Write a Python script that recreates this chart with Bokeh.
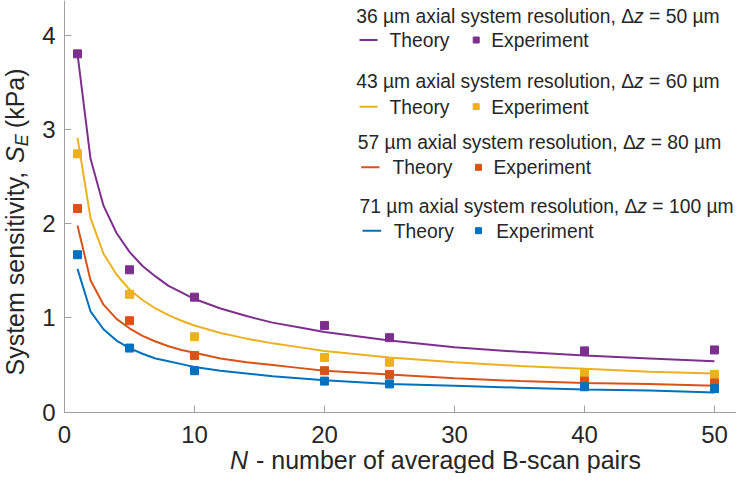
import math
from bokeh.plotting import figure
from bokeh.models import Range1d, Label, FixedTicker
from bokeh.embed import file_html
from bokeh.resources import INLINE

# ---------------- data ----------------
n_exp = [1, 5, 10, 20, 25, 40, 50]
exp_36 = [3.80, 1.51, 1.22, 0.92, 0.79, 0.65, 0.66]
exp_43 = [2.74, 1.25, 0.80, 0.58, 0.53, 0.41, 0.40]
exp_57 = [2.16, 0.97, 0.60, 0.44, 0.40, 0.33, 0.31]
exp_71 = [1.67, 0.68, 0.44, 0.33, 0.30, 0.27, 0.25]

n_theory = [1, 2, 3, 4, 5, 6, 7, 8, 9, 10, 12, 14, 16, 18, 20, 25, 30, 35, 40, 45, 50]
theory_36 = [3.80, 2.69, 2.19, 1.90, 1.70, 1.55, 1.44, 1.34, 1.27, 1.20, 1.10, 1.02, 0.95, 0.90, 0.85, 0.76, 0.69, 0.64, 0.60, 0.57, 0.54]
theory_43 = [2.91, 2.06, 1.68, 1.46, 1.30, 1.19, 1.10, 1.03, 0.97, 0.92, 0.84, 0.78, 0.73, 0.69, 0.65, 0.58, 0.53, 0.49, 0.46, 0.43, 0.41]
theory_57 = [1.98, 1.40, 1.14, 0.99, 0.89, 0.81, 0.75, 0.70, 0.66, 0.63, 0.57, 0.53, 0.50, 0.47, 0.44, 0.40, 0.36, 0.33, 0.31, 0.30, 0.28]
theory_71 = [1.52, 1.07, 0.88, 0.76, 0.68, 0.62, 0.57, 0.54, 0.51, 0.48, 0.44, 0.41, 0.38, 0.36, 0.34, 0.30, 0.28, 0.26, 0.24, 0.23, 0.21]

resolutions = ["36", "43", "57", "71"]
dz_values = ["50", "60", "80", "100"]
x_ticks = [0, 10, 20, 30, 40, 50]
y_ticks = [0, 1, 2, 3, 4]

colors = ["#7E2F8E", "#EDB120", "#D95319", "#0072BD"]
theories = [theory_36, theory_43, theory_57, theory_71]
exps = [exp_36, exp_43, exp_57, exp_71]

# ---------------- layout helpers (canvas px -> data) ----------------
W, H = 736, 473
X0, XS = 64.0, 13.0      # canvas px of x=0, px per unit
Y0, YS = 411.7, 94.3     # canvas px of y=0, px per unit
def dx(px):
    return (px - X0) / XS
def dy(py):
    return (Y0 - py) / YS

FONT = "Liberation Sans"
TXT = "#262626"
AX = "#a0a0a0"
BASE_FIX = 0.32  # measured shift of rendered baseline, in em

p = figure(width=W, height=H,
           x_range=Range1d(dx(0), dx(W)), y_range=Range1d(dy(H), dy(0)),
           output_backend="svg", toolbar_location=None,
           min_border=0, min_border_left=0, min_border_right=0,
           min_border_top=0, min_border_bottom=0)
p.outline_line_color = None
p.xgrid.visible = False
p.ygrid.visible = False
p.background_fill_color = "white"

xa, ya = p.xaxis[0], p.yaxis[0]
xa.fixed_location = 0
ya.fixed_location = 0
xa.bounds = (0, dx(W))
ya.bounds = (0, dy(0))
for ax in (xa, ya):
    ax.axis_line_color = AX
    ax.major_tick_line_color = AX
    ax.major_tick_in = 7
    ax.major_tick_out = 0
    ax.minor_tick_line_color = None
    ax.major_label_text_font = FONT
    ax.major_label_text_font_size = "24px"
    ax.major_label_text_color = TXT
xa.ticker = FixedTicker(ticks=x_ticks)
ya.ticker = FixedTicker(ticks=y_ticks)
xa.major_label_standoff = 14
ya.major_label_standoff = 9

# ---------------- series ----------------
for c, th in zip(colors, theories):
    p.line(n_theory, th, line_color=c, line_width=2)
for c, ex in zip(colors, exps):
    p.scatter(n_exp, ex, marker="square", size=8, fill_color=c, line_color=c)

# ---------------- text helper ----------------
def lab(text, px, py, size, style="normal", rotated=False):
    if rotated:
        px -= BASE_FIX * size
        ang = math.pi / 2
    else:
        py -= BASE_FIX * size
        ang = 0.0
    p.add_layout(Label(x=dx(px), y=dy(py), text=text, text_font=FONT,
                       text_font_size=f"{size}px", text_font_style=style,
                       text_color=TXT, text_align="left", text_baseline="alphabetic",
                       angle=ang))

# x label
lab("N", 229.5, 467, 25, "italic")
lab("- number of averaged B-scan pairs", 255.5, 467, 25)

# y label (rotated)
lab("System sensitivity,", 22, 375, 25, rotated=True)
lab("S", 22, 162.4, 25, "italic", rotated=True)
lab("E", 27, 145.7, 18, "italic", rotated=True)
lab("(kPa)", 22, 127.7, 25, rotated=True)

# ---------------- legend blocks ----------------
FS = 19.3
title_x = [355.7, 355.7, 357.3, 359.0]
title_base = [22.0, 87.5, 148.3, 211.7]
row_base = [46.0, 112.7, 173.3, 236.7]
line_x = [(359, 377), (359, 377), (360.7, 379), (362, 380.7)]
theory_x = [389, 389, 392, 393.3]
marker_x = [475.7, 475.7, 478, 478]
exper_x = [490.7, 490.7, 493, 495.7]

prefix_w = 14395 / 1000 * FS
z_w = 500 / 1000 * FS
sp_w = 278 / 1000 * FS

for i in range(4):
    x0 = title_x[i]
    lab(f"{resolutions[i]} µm axial system resolution, Δ", x0, title_base[i], FS)
    lab("z", x0 + prefix_w, title_base[i], FS, "italic")
    lab(f"= {dz_values[i]} µm", x0 + prefix_w + z_w + sp_w, title_base[i], FS)
    yc = row_base[i] - 6.5
    p.line([dx(line_x[i][0]), dx(line_x[i][1])], [dy(yc), dy(yc)], line_color=colors[i], line_width=2)
    lab("Theory", theory_x[i], row_base[i], FS)
    p.scatter([dx(marker_x[i])], [dy(yc)], marker="square", size=6, fill_color=colors[i], line_color=colors[i])
    lab("Experiment", exper_x[i], row_base[i], FS)

open("out.html", "w").write(file_html(p, INLINE))
